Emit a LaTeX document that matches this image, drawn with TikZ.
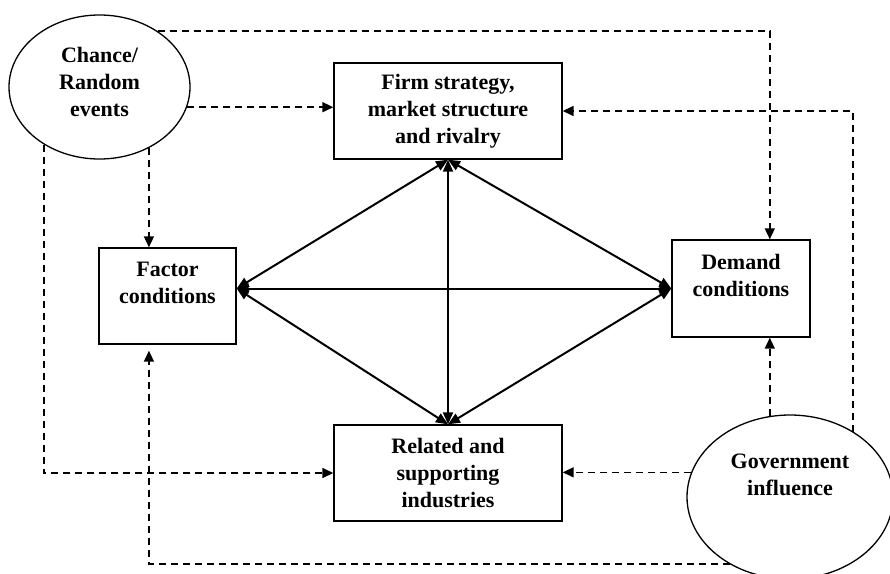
\documentclass[tikz,border=0pt]{standalone}
\usepackage{fontspec}
\setmainfont{Liberation Serif}
\usetikzlibrary{arrows.meta, positioning, shapes.geometric, calc}

\tikzset{
  txt/.style={font=\fontsize{22}{27}\selectfont\bfseries, align=center, inner sep=0pt},
  box/.style={txt, draw, line width=1.4pt, rectangle, minimum height=96pt},
  oval/.style={draw, line width=1.3pt, ellipse, inner sep=0pt},
  link/.style={line width=2pt, {Triangle[length=12pt,width=10pt]}-{Triangle[length=12pt,width=10pt]}},
  infl/.style={line width=1.6pt, dash pattern=on 7pt off 5pt, -{Triangle[length=11pt,width=10pt]}}
}

\begin{document}
\begin{tikzpicture}[x=1pt, y=-1pt]
  \useasboundingbox (0,0) rectangle (890,573);
  % the four boxes of the diamond
  \node[box, minimum width=228pt] (firm) at (448,111) {Firm strategy,\\market structure\\and rivalry};
  \node[box, minimum width=228pt] (related) at (448,473) {Related and\\supporting\\industries};
  \node[box, minimum width=137pt] (factor) at (167.5,296) {};
  \node[txt] (factortxt) at ([yshift=13pt]factor.center) {Factor\\conditions};
  \node[box, minimum width=138pt, minimum height=97pt] (demand) at (741,288.5) {};
  \node[txt] (demandtxt) at ([yshift=13pt]demand.center) {Demand\\conditions};
  % outside influences
  \node[oval, minimum width=181pt, minimum height=144pt] (chance) at (99.5,87) {};
  \node[txt] (chancetxt) at ([yshift=5pt]chance.center) {Chance/\\Random\\events};
  \node[oval, minimum width=206pt, minimum height=164pt] (gov) at (790,497) {};
  \node[txt] (govtxt) at ([yshift=22.5pt]gov.center) {Government\\influence};

  % solid links
  \coordinate (fc) at (factor.east |- demand.west);
  \draw[link] (fc) -- (demand.west);
  \draw[link] (fc) -- (firm.south);
  \draw[link] (fc) -- (related.north);
  \draw[link] (demand.west) -- (firm.south);
  \draw[link] (demand.west) -- (related.north);
  \draw[link] (firm.south) -- (related.north);

  % chance
  \draw[infl] (chance.44) -| (gov.104.7 |- demand.north);
  \draw[infl] (chance.-13.6) -- (chance.-13.6 -| firm.west);
  \draw[infl] (chance.-51.4) -- (chance.-51.4 |- factor.north);
  \draw[infl] (chance.-134.3) |- (related.west);
  % government
  \draw[infl] (gov.104.7) -- (gov.104.7 |- demand.south);
  \draw[infl] (gov.46.6) |- (firm.east);
  \draw[infl] (gov.166) -- (gov.166 -| related.east);
  \draw[infl] (gov.228.4) -| ([yshift=-6pt]chance.-51.4 |- factor.south);
\end{tikzpicture}
\end{document}
